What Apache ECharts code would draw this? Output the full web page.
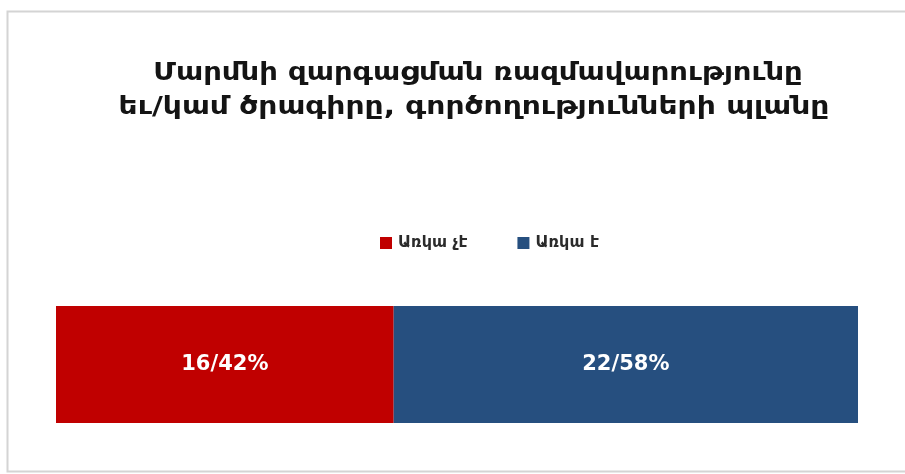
<!DOCTYPE html>
<html><head><meta charset="utf-8">
<script src="https://cdn.jsdelivr.net/npm/echarts@6/dist/echarts.min.js"></script>
<style>html,body{margin:0;padding:0;background:#fff}#c{width:905px;height:474px}</style>
</head><body><div id="c"></div>
<script>
const titleLines = ['Մարմնի զարգացման ռազմավարությունը', 'եւ/կամ ծրագիրը, գործողությունների պլանը'];
const categories = ['Առկա չէ', 'Առկա է'];
const counts = [16, 22];
const percents = [42, 58];
const colors = ['#C00000', '#264F7F'];

const chart = echarts.init(document.getElementById('c'));
const total = counts.reduce((a, b) => a + b, 0);
const titleFont = {fontFamily: 'DejaVu Sans, sans-serif', fontSize: 24, fontWeight: 'bold', fill: '#141414', textAlign: 'center', textVerticalAlign: 'middle'};
chart.setOption({
  backgroundColor: '#fff',
  graphic: [
    {type: 'rect', shape: {x: 7.5, y: 11.5, width: 905, height: 460}, style: {fill: 'none', stroke: '#d4d4d4', lineWidth: 2}},
    {type: 'text', x: 478, y: 74, scaleX: 1.21, style: Object.assign({text: titleLines[0]}, titleFont)},
    {type: 'text', x: 474, y: 108, scaleX: 1.24, style: Object.assign({text: titleLines[1]}, titleFont)}
  ],
  legend: {
    top: 230, left: 375, itemWidth: 12, itemHeight: 12, itemGap: 50,
    icon: 'rect',
    textStyle: {fontFamily: 'DejaVu Sans, sans-serif', fontSize: 16, fontWeight: 'bold', color: '#2b2b2b', padding: [0, 0, 0, 1]},
    data: categories
  },
  grid: {left: 56, right: 47, top: 306, height: 117},
  xAxis: {type: 'value', min: 0, max: total, show: false},
  yAxis: {type: 'category', data: [''], show: false},
  series: categories.map((name, i) => ({
    name, type: 'bar', stack: 'total', barWidth: 117,
    itemStyle: {color: colors[i]},
    label: {show: true, position: 'inside', formatter: counts[i] + '/' + percents[i] + '%',
      color: '#fff', fontSize: 21, fontWeight: 'bold', fontFamily: 'DejaVu Sans, sans-serif'},
    data: [counts[i]]
  }))
});
</script></body></html>
